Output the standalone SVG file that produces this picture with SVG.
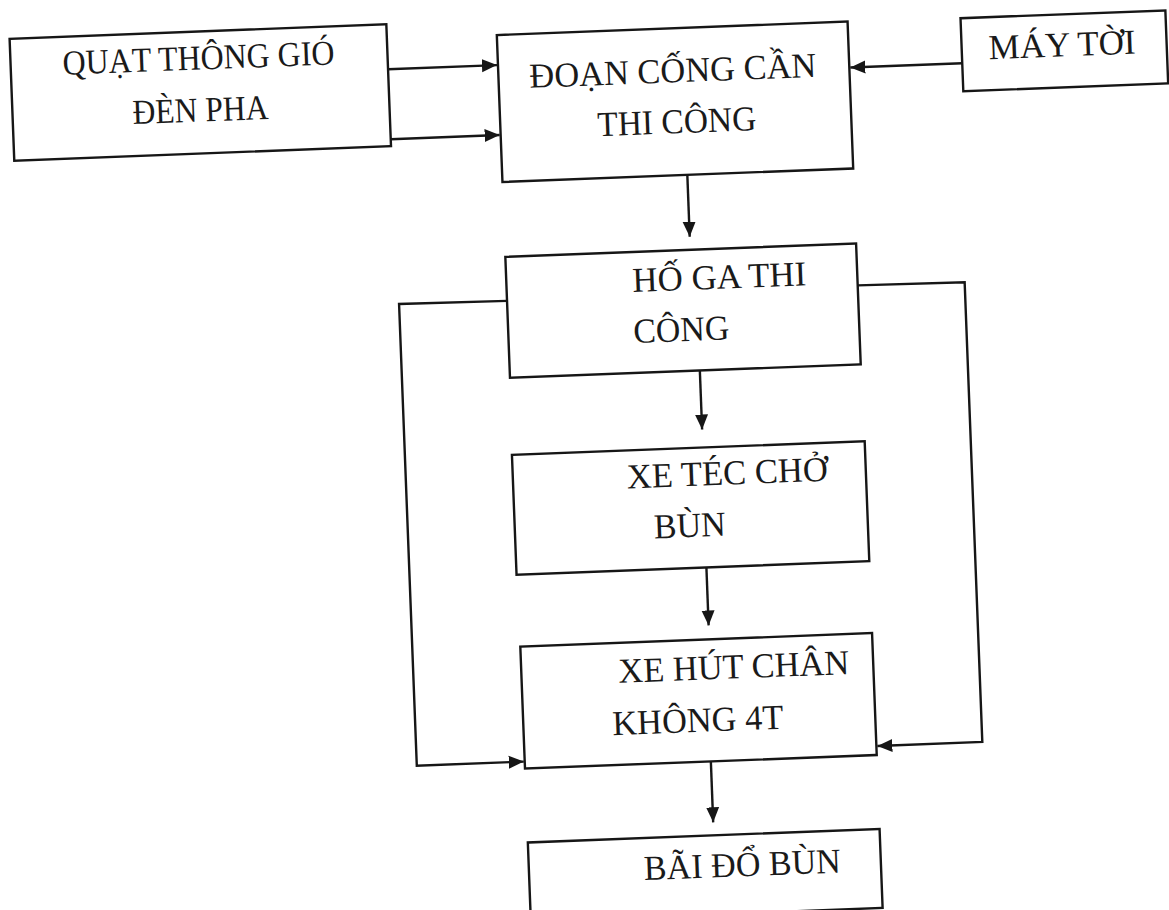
<svg xmlns="http://www.w3.org/2000/svg" width="1169" height="910" viewBox="0 0 1169 910">
<defs>
<style>
.box{fill:#fff;stroke:#161616;stroke-width:2.4}
.ln{fill:none;stroke:#161616;stroke-width:2.4}
.t{font-family:"Liberation Serif","Times New Roman",serif;font-size:35px;fill:#1a1a1a}
</style>
<marker id="ah" markerUnits="userSpaceOnUse" markerWidth="16" markerHeight="14" refX="15" refY="7" orient="auto">
<path d="M0,0.5 L15,7 L0,13.5 z" fill="#161616"/>
</marker>
</defs>
<rect width="1169" height="910" fill="#fff"/>
<g transform="rotate(-2.2 585 455)">
<g id="connectors">
<line class="ln" x1="403" y1="62" x2="512" y2="62" marker-end="url(#ah)"/>
<line class="ln" x1="403" y1="132" x2="512" y2="132" marker-end="url(#ah)"/>
<line class="ln" x1="977" y1="78" x2="865" y2="78" marker-end="url(#ah)"/>
<line class="ln" x1="698" y1="179" x2="698" y2="241" marker-end="url(#ah)"/>
<line class="ln" x1="703" y1="375" x2="703" y2="434" marker-end="url(#ah)"/>
<line class="ln" x1="702" y1="572" x2="702" y2="630" marker-end="url(#ah)"/>
<line class="ln" x1="699" y1="766" x2="699" y2="827" marker-end="url(#ah)"/>
<polyline class="ln" points="513,298 405,297 405,759 512,759" marker-end="url(#ah)"/>
<polyline class="ln" points="864,296 971,297 971,757 866,757" marker-end="url(#ah)"/>
</g>
<g id="quat">
<rect class="box" x="26" y="17" width="377" height="122"/>
<text class="t" x="78" y="55" textLength="272" lengthAdjust="spacingAndGlyphs">QUẠT THÔNG GIÓ</text>
<text class="t" x="146" y="107" textLength="136" lengthAdjust="spacingAndGlyphs">ĐÈN PHA</text>
</g>
<g id="doancong">
<rect class="box" x="513" y="32" width="351" height="147"/>
<text class="t" x="544" y="86" textLength="287" lengthAdjust="spacingAndGlyphs">ĐOẠN CỐNG CẦN</text>
<text class="t" x="610" y="137" textLength="159" lengthAdjust="spacingAndGlyphs">THI CÔNG</text>
</g>
<g id="maytoi">
<rect class="box" x="977" y="33" width="205" height="73"/>
<text class="t" x="1004" y="75" textLength="147" lengthAdjust="spacingAndGlyphs">MÁY TỜI</text>
</g>
<g id="hoga">
<rect class="box" x="513" y="254" width="351" height="121"/>
<text class="t" x="639" y="294" textLength="174" lengthAdjust="spacingAndGlyphs">HỐ GA THI</text>
<text class="t" x="638" y="345" textLength="96" lengthAdjust="spacingAndGlyphs">CÔNG</text>
</g>
<g id="xetec">
<rect class="box" x="512" y="452" width="353" height="120"/>
<text class="t" x="626" y="490" textLength="201" lengthAdjust="spacingAndGlyphs">XE TÉC CHỞ</text>
<text class="t" x="651" y="541" textLength="72" lengthAdjust="spacingAndGlyphs">BÙN</text>
</g>
<g id="xehut">
<rect class="box" x="513" y="644" width="352" height="122"/>
<text class="t" x="610" y="684" textLength="231" lengthAdjust="spacingAndGlyphs">XE HÚT CHÂN</text>
<text class="t" x="602" y="736" textLength="171" lengthAdjust="spacingAndGlyphs">KHÔNG 4T</text>
</g>
<g id="baido">
<rect class="box" x="513" y="840" width="352" height="79"/>
<text class="t" x="628" y="882" textLength="197" lengthAdjust="spacingAndGlyphs">BÃI ĐỔ BÙN</text>
</g>
</g>
</svg>
